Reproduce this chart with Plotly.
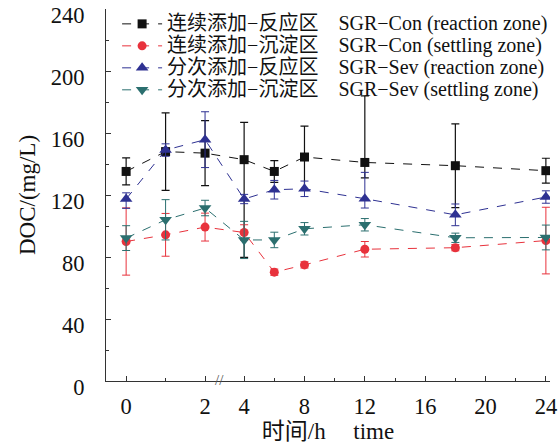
import plotly.graph_objects as go

# ---- data (hours, DOC mg/L) ----
hours = [0, 1, 2, 4, 6, 8, 12, 18, 24]

con_react = [135.2, 148, 147, 142.8, 135.2, 144.5, 141, 138.9, 135.7]
con_react_plus = [8.7, 25, 21, 24, 7, 20, 43, 27, 8]
con_react_minus = [8.7, 25, 21, 63, 7, 21, 10, 27, 8]

con_settle = [90, 94.3, 99.3, 95.8, 70.2, 74.9, 85, 86, 90.6]
con_settle_err = [21.7, 13.8, 9, 5, 2, 2, 5, 2, 21.5]

sev_react = [117.4, 149, 155.7, 117.4, 123.4, 124, 117.6, 107.2, 118.7]
sev_react_plus = [4, 4, 18, 3, 6, 5, 17, 7, 4]
sev_react_minus = [6, 4, 18, 3, 6, 5, 6, 7, 4]

sev_settle = [92.2, 104, 111.6, 91, 91, 98.2, 100.8, 92.4, 92.6]
sev_settle_err = [8, 13, 5, 12, 5, 4, 4, 3, 8]

names_cn = ["连续添加−反应区", "连续添加−沉淀区", "分次添加−反应区", "分次添加−沉淀区"]
names_en = ["SGR−Con (reaction zone)", "SGR−Con (settling zone)",
            "SGR−Sev (reaction zone)", "SGR−Sev (settling zone)"]

tick_hours = [0, 2, 4, 8, 12, 16, 20, 24]
tick_labels = ["0", "2", "4", "8", "12", "16", "20", "24"]
minor_hours = [1, 6, 10, 14, 18, 22]

# ---- broken time scale: 0-2 h expanded, 4-24 h compressed ----
R = 15.1 / 39.5
GAP = 0.99


def xpos(t):
    return t if t <= 2 else 2 + GAP + (t - 4) * R


FONT = "Liberation Serif, Times New Roman, Noto Sans CJK SC, serif"
colors = ["#111111", "#e8323c", "#2e3192", "#2b6f6f"]
symbols = ["square", "circle", "triangle-up", "triangle-down"]
sizes = [9, 9, 11, 11]

series = [
    (con_react, con_react_plus, con_react_minus),
    (con_settle, con_settle_err, con_settle_err),
    (sev_react, sev_react_plus, sev_react_minus),
    (sev_settle, sev_settle_err, sev_settle_err),
]

xs = [xpos(t) for t in hours]

fig = go.Figure()
for i, (vals, ep, em) in enumerate(series):
    label = '<span style="font-size:20px">' + names_cn[i] + "\u2003" + names_en[i] + "</span>"
    fig.add_trace(go.Scatter(
        x=xs, y=vals, name=label, mode="lines+markers",
        line=dict(color=colors[i], width=1, dash="dash"),
        marker=dict(symbol=symbols[i], size=sizes[i], color=colors[i]),
        error_y=dict(type="data", symmetric=False, array=ep, arrayminus=em,
                     color=colors[i], thickness=1.2 if i == 0 else 1, width=4),
    ))

fig.add_annotation(x=2.36, y=0, xref="x", yref="y", text="//", showarrow=False,
                   font=dict(family=FONT, size=15, color="#555"), yshift=1)

fig.update_layout(
    width=560, height=445,
    margin=dict(l=106, r=10, t=9, b=64, autoexpand=False),
    paper_bgcolor="white", plot_bgcolor="white",
    font=dict(family=FONT, size=23, color="#111"),
    showlegend=True,
    legend=dict(x=0.025, y=1.003, xanchor="left", yanchor="top",
                bgcolor="rgba(0,0,0,0)", font=dict(family=FONT, size=14.6),
                tracegroupgap=0, itemwidth=40),
    xaxis=dict(
        automargin=False,
        range=[-0.51, 10.74], showgrid=False, zeroline=False,
        showline=True, linecolor="#333", linewidth=1,
        tickmode="array", tickvals=[xpos(t) for t in tick_hours], ticktext=tick_labels,
        ticks="inside", ticklen=5, tickcolor="#333",
        minor=dict(tickmode="array", tickvals=[xpos(t) for t in minor_hours],
                   ticks="inside", ticklen=3, tickcolor="#333"),
        tickfont=dict(family=FONT, size=22.5),
        ticklabelstandoff=5, ticklabeloverflow="allow",
        title=dict(text="时间/h\u2003\u2009time", font=dict(family=FONT, size=23), standoff=4),
    ),
    yaxis=dict(
        automargin=False,
        range=[0, 240], showgrid=False, zeroline=False,
        showline=True, linecolor="#333", linewidth=1,
        tickmode="linear", tick0=0, dtick=40,
        ticks="inside", ticklen=5, tickcolor="#333",
        minor=dict(dtick=20, ticks="inside", ticklen=3, tickcolor="#333"),
        tickfont=dict(family=FONT, size=22.5),
        ticklabelstandoff=16, ticklabelshift=6, ticklabeloverflow="allow",
        title=dict(text="DOC/(mg/L)", font=dict(family=FONT, size=23), standoff=8),
    ),
)

fig.write_html("out.html", post_script="document.body.style.margin='0px';",
               config={"displayModeBar": False})
